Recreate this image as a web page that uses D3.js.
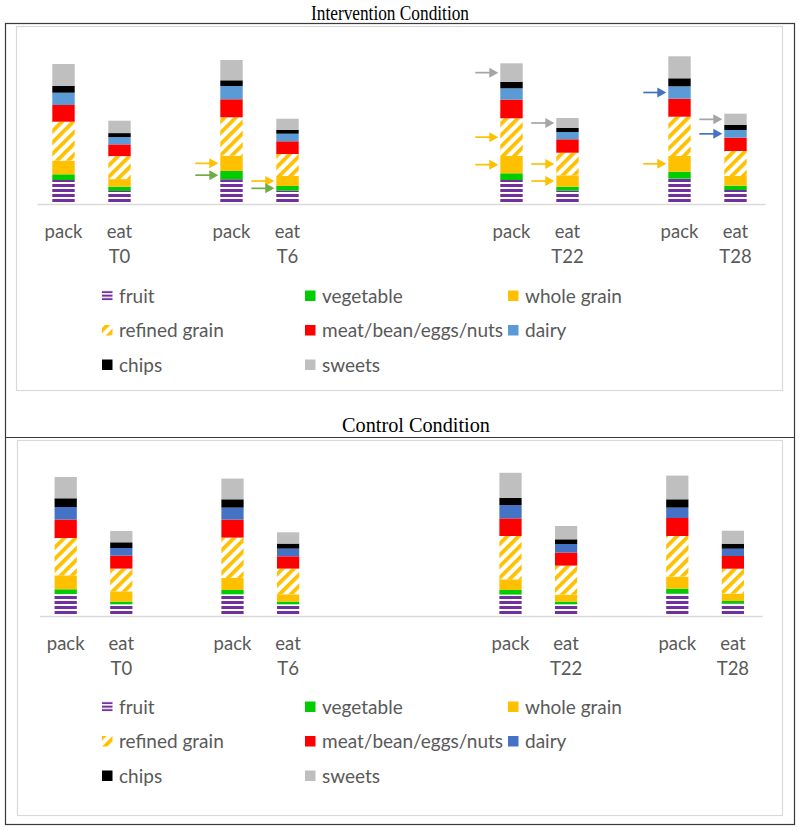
<!DOCTYPE html>
<html><head><meta charset="utf-8">
<script src="https://cdn.jsdelivr.net/npm/d3@7"></script>
<style>body{margin:0;background:#fff}</style>
</head><body>
<svg id="c" width="800" height="831"></svg>
<script>
// ---- data ----
const slots = ["T0 pack","T0 eat","g1","T6 pack","T6 eat","g2","g3","g4","T22 pack","T22 eat","g5","T28 pack","T28 eat"];
const bars = ["T0 pack","T0 eat","T6 pack","T6 eat","T22 pack","T22 eat","T28 pack","T28 eat"];
const labelLine1 = ["pack","eat","pack","eat","pack","eat","pack","eat"];
const labelLine2 = ["","T0","","T6","","T22","","T28"];
const seriesNames = ["fruit","vegetable","whole grain","refined grain","meat/bean/eggs/nuts","dairy","chips","sweets"];

// Intervention condition
const intFruit   = [24, 13, 24.7, 13.3, 24, 13.3, 25.3, 14];
const intVeg     = [5.7, 4.3, 8.3, 4.7, 6.7, 4, 7, 4.3];
const intWhole   = [13.6, 7.6, 15.3, 10, 17.3, 11.4, 15.7, 9.7];
const intRefined = [39, 23, 38.4, 22, 37.7, 22.6, 39.3, 25];
const intMeat    = [16.7, 11.7, 18, 12.7, 18.6, 13.4, 18, 13.3];
const intDairy   = [12.3, 7.3, 13.3, 7.6, 11.4, 7.3, 12.4, 7.7];
const intChips   = [6.7, 4, 5.7, 3.7, 6.3, 4, 8, 5];
const intSweets  = [22, 12.4, 20.3, 11.3, 18.7, 10, 22, 11.3];

// Control condition
const ctlFruit   = [22, 11.7, 21.7, 11.7, 21.4, 11.7, 22.4, 12.4];
const ctlVeg     = [4.7, 2.7, 4.3, 2.7, 4.6, 2.7, 5, 2.6];
const ctlWhole   = [14, 10.3, 12, 7.3, 10.7, 7, 12, 7.4];
const ctlRefined = [37.3, 22.7, 40.4, 25.7, 43.3, 29, 40.6, 24.9];
const ctlMeat    = [18.4, 13, 18, 12.3, 17.6, 13, 18, 12.7];
const ctlDairy   = [12.6, 7.6, 12, 7.7, 13.3, 8.6, 10.4, 7.3];
const ctlChips   = [8.7, 5.7, 8.3, 5, 7.3, 4.7, 8.3, 5];
const ctlSweets  = [21.3, 11.3, 20.7, 11.3, 25, 13.3, 23.7, 13];

// arrows (intervention panel only)
const arrowBar    = ["T6 pack","T6 pack","T6 eat","T6 eat","T22 pack","T22 pack","T22 pack","T22 eat","T22 eat","T22 eat","T28 pack","T28 pack","T28 eat","T28 eat"];
const arrowSeries = ["whole grain","vegetable","whole grain","vegetable","sweets","refined grain","whole grain","sweets","refined grain","whole grain","dairy","whole grain","sweets","dairy"];
const arrowColor  = ["#FFC000","#70AD47","#FFC000","#70AD47","#A5A5A5","#FFC000","#FFC000","#A5A5A5","#FFC000","#FFC000","#4472C4","#FFC000","#A5A5A5","#4472C4"];

// ---- drawing ----
const svg = d3.select("#c");
const defs = svg.append("defs");
const TXT = "#595959";
const FONT = "Lato, 'Open Sans', sans-serif";

// frame
svg.append("rect").attr("x",5.5).attr("y",23.5).attr("width",789).attr("height",801)
  .attr("fill","none").attr("stroke","#3a3a3a").attr("stroke-width",1.2);
svg.append("line").attr("x1",5.5).attr("x2",794.5).attr("y1",437.5).attr("y2",437.5)
  .attr("stroke","#3a3a3a").attr("stroke-width",1.2);

function makePatterns(id, baseline){
  const pf = defs.append("pattern").attr("id","fruit"+id).attr("patternUnits","userSpaceOnUse")
    .attr("x",0).attr("y",baseline).attr("width",10).attr("height",5);
  pf.append("rect").attr("width",10).attr("height",5).attr("fill","#fff");
  pf.append("rect").attr("y",0).attr("width",10).attr("height",3).attr("fill","#7030A0");
  const pr = defs.append("pattern").attr("id","ref"+id).attr("patternUnits","userSpaceOnUse")
    .attr("width",8).attr("height",8).attr("patternTransform","rotate(45)");
  pr.append("rect").attr("width",8).attr("height",8).attr("fill","#fff");
  pr.append("rect").attr("width",3.8).attr("height",8).attr("fill","#FFC000");
  // legend fruit icon pattern (tighter stripes)
  const pl = defs.append("pattern").attr("id","fruitL"+id).attr("patternUnits","objectBoundingBox")
    .attr("width",1).attr("height",1/3);
  pl.append("rect").attr("width",11).attr("height",3.6).attr("fill","#fff");
  pl.append("rect").attr("y",0.6).attr("width",11).attr("height",2).attr("fill","#7030A0");
}

function panel(opt){
  const {id, title, titleX, titleY, titleLen, box, baseline, xRange, data, dairyColor, legendY, arrows} = opt;
  makePatterns(id, baseline);
  const colors = ["url(#fruit"+id+")","#00CC00","#FFC000","url(#ref"+id+")","#FF0000",dairyColor,"#000000","#BFBFBF"];
  const legendColors = colors.slice(); legendColors[0] = "url(#fruitL"+id+")";

  svg.append("text").attr("x",titleX).attr("y",titleY).attr("text-anchor","middle")
    .attr("font-family","'Liberation Serif', 'DejaVu Serif', serif").attr("font-size",20)
    .attr("textLength",titleLen).attr("lengthAdjust","spacingAndGlyphs")
    .attr("fill","#000").text(title);

  svg.append("rect").attr("x",box[0]+0.5).attr("y",box[1]+0.5).attr("width",box[2]-box[0]).attr("height",box[3]-box[1])
    .attr("fill","none").attr("stroke","#D9D9D9").attr("stroke-width",1.2);

  const x = d3.scaleBand().domain(slots).range(xRange).paddingInner(0.6).paddingOuter(0.3);
  const y = d3.scaleLinear().domain([0,150]).range([baseline, baseline-150]);

  const rows = bars.map((b,i)=>{ const r={bar:b}; seriesNames.forEach((s,k)=>r[s]=data[k][i]); return r; });
  const stacked = d3.stack().keys(seriesNames)(rows);

  const g = svg.append("g");
  stacked.forEach((layer,k)=>{
    g.selectAll(null).data(layer).enter().append("rect")
      .attr("x",d=>x(d.data.bar)).attr("width",x.bandwidth())
      .attr("y",d=>y(d[1])).attr("height",d=>y(d[0])-y(d[1]))
      .attr("fill",colors[k]);
  });

  // baseline
  svg.append("line").attr("x1",xRange[0]+2).attr("x2",xRange[1]+2).attr("y1",baseline+0.5).attr("y2",baseline+0.5)
    .attr("stroke","#D9D9D9").attr("stroke-width",1.5);

  // x labels
  bars.forEach((b,i)=>{
    const cx = x(b)+x.bandwidth()/2;
    svg.append("text").attr("x",cx).attr("y",baseline+34).attr("text-anchor","middle")
      .attr("font-family",FONT).attr("font-size",18.5).attr("fill",TXT).text(labelLine1[i]);
    if(labelLine2[i]) svg.append("text").attr("x",cx).attr("y",baseline+59).attr("text-anchor","middle")
      .attr("font-family",FONT).attr("font-size",18.5).attr("fill",TXT).text(labelLine2[i]);
  });

  // arrows
  if(arrows){
    arrowBar.forEach((b,i)=>{
      const k = seriesNames.indexOf(arrowSeries[i]);
      const d = stacked[k].find(e=>e.data.bar===b);
      const yy = (y(d[0])+y(d[1]))/2;
      const left = x(b);
      const tip = left-2, start = left-25;
      svg.append("line").attr("x1",start).attr("x2",tip-7).attr("y1",yy).attr("y2",yy)
        .attr("stroke",arrowColor[i]).attr("stroke-width",1.7);
      svg.append("path").attr("d",`M${tip-9},${yy-5}L${tip},${yy}L${tip-9},${yy+5}Z`)
        .attr("fill",arrowColor[i]);
    });
  }

  // legend
  const colX = [102, 305, 508];
  seriesNames.forEach((s,k)=>{
    const r = Math.floor(k/3), c = k%3;
    const ly = legendY + r*34.5;
    svg.append("rect").attr("x",colX[c]).attr("y",ly-5.5).attr("width",10.5).attr("height",10.5).attr("fill",legendColors[k]);
    svg.append("text").attr("x",colX[c]+17).attr("y",ly+6.5).attr("font-family",FONT).attr("font-size",19)
      .attr("fill",TXT).text(s);
  });
}

panel({id:"A", title:"Intervention Condition", titleX:390, titleY:20, titleLen:158,
  box:[16,26,782,390], baseline:204, xRange:[35.5,763.5],
  data:[intFruit,intVeg,intWhole,intRefined,intMeat,intDairy,intChips,intSweets],
  dairyColor:"#5B9BD5", legendY:296, arrows:true});

panel({id:"B", title:"Control Condition", titleX:416, titleY:432, titleLen:148,
  box:[17,440,782,815], baseline:616, xRange:[37.9,760.7],
  data:[ctlFruit,ctlVeg,ctlWhole,ctlRefined,ctlMeat,ctlDairy,ctlChips,ctlSweets],
  dairyColor:"#4472C4", legendY:707, arrows:false});
</script>
</body></html>
